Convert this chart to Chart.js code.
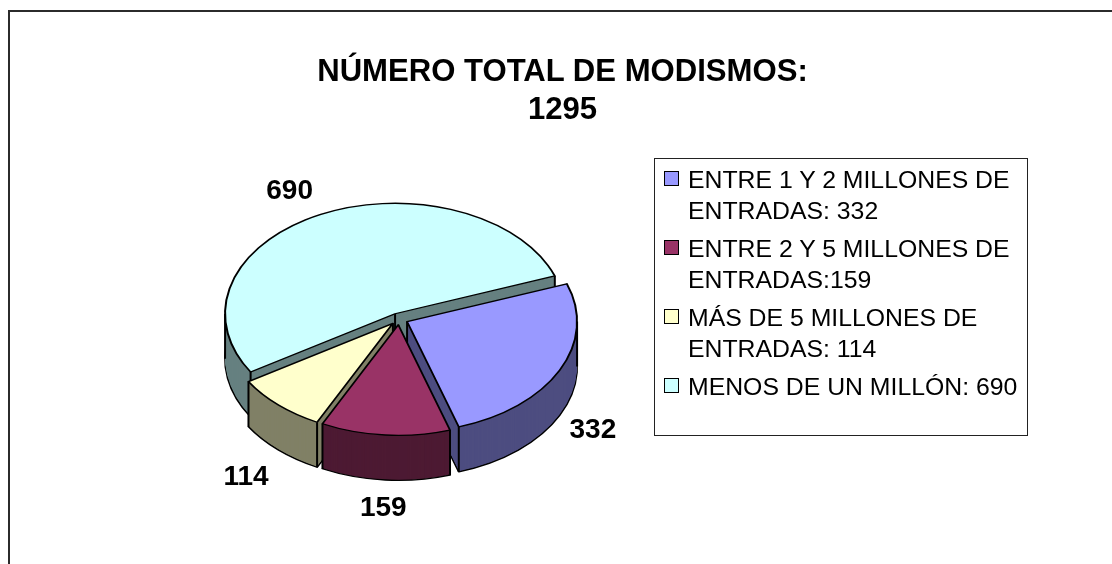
<!DOCTYPE html>
<html lang="es">
<head>
<meta charset="utf-8">
<title>Número total de modismos</title>
<script src="https://cdn.jsdelivr.net/npm/chart.js@4"></script>
<style>
  html,body{margin:0;padding:0;background:#fff;width:1112px;height:564px;overflow:hidden;}
  body{position:relative;font-family:"Liberation Sans",Arial,sans-serif;color:#000;}
  #chart{position:absolute;left:0;top:0;}
  .edge{position:absolute;background:#2b2b2b;}
  #edgeTop{left:8px;top:10px;right:0;height:2px;}
  #edgeLeft{left:7.5px;top:10px;bottom:0;width:2px;}
  #title{position:absolute;left:13px;width:1099px;top:52px;text-align:center;font-weight:bold;font-size:31.1px;line-height:38px;white-space:pre-line;}
  #legend{position:absolute;left:654px;top:158px;width:372px;height:276px;border:1px solid #222;box-sizing:content-box;}
  .item{position:absolute;left:33px;font-size:24.8px;line-height:31px;white-space:pre-line;}
  .swatch{position:absolute;left:-24px;top:7px;width:13px;height:13px;border:1.5px solid #000;}
</style>
</head>
<body>
<canvas id="chart" width="1112" height="564"></canvas>
<div class="edge" id="edgeTop"></div>
<div class="edge" id="edgeLeft"></div>
<div id="title"></div>
<div id="legend"></div>
<script>
const chartTitle = "NÚMERO TOTAL DE MODISMOS:\n1295";
const categories = [
  "ENTRE 1 Y 2 MILLONES DE\nENTRADAS: 332",
  "ENTRE 2 Y 5 MILLONES DE\nENTRADAS:159",
  "MÁS DE 5 MILLONES DE\nENTRADAS: 114",
  "MENOS DE UN MILLÓN: 690"
];
const values = [332, 159, 114, 690];
const topColors = ["#9999FF", "#993366", "#FFFFCC", "#CCFFFF"];
const wallColors = ["#4D4D80", "#4D1A33", "#808066", "#668080"];

// view settings of the tilted pie
const tilt = 0.65, depth = 45, explode = 9, edgeWidth = 2;
const paintOrder = [3, 0, 2, 1];           // far slices first
const labelGaps = [46, 48, 57, 62];        // distance of each value label from the rim
const labelNudgeX = [0, 1, 0, -8];
const labelNudgeY = [4, 3, 4, 8];
const legendTops = [5, 74, 143, 212];      // legend rows, relative to the box

document.getElementById("title").textContent = chartTitle;
const legendEl = document.getElementById("legend");
categories.forEach((text, i) => {
  const item = document.createElement("div");
  item.className = "item";
  item.style.top = legendTops[i] + "px";
  item.textContent = text;
  const sw = document.createElement("span");
  sw.className = "swatch";
  sw.style.background = topColors[i];
  item.appendChild(sw);
  legendEl.appendChild(item);
});

const pie3d = {
  id: "pie3d",
  beforeDatasetDraw(chart, args) {
    const ctx = chart.ctx;
    const arcs = args.meta.data;
    const place = (arc, d) => {
      const mid = (arc.startAngle + arc.endAngle) / 2;
      ctx.translate(arc.x + Math.cos(mid) * explode, arc.y + Math.sin(mid) * explode * tilt + d);
      ctx.scale(1, tilt);
      ctx.translate(-arc.x, -arc.y);
    };
    const drawWith = (arc, d, opts) => {
      const saved = arc.options;
      arc.options = Object.assign({}, saved, opts);
      ctx.save();
      place(arc, d);
      arc.draw(ctx);
      ctx.restore();
      arc.options = saved;
    };
    paintOrder.forEach(i => {
      const arc = arcs[i];
      const wall = wallColors[i];
      const rim = arc.outerRadius;
      drawWith(arc, depth, {backgroundColor: wall, borderColor: "#000", borderWidth: edgeWidth, borderJoinStyle: "round"});
      for (let d = depth - 1; d >= 1; d--) {
        drawWith(arc, d, {backgroundColor: wall, borderColor: wall, borderWidth: 0});
      }
      // upright edges of the wall: apex, both corners, and left/right silhouette
      const mid = (arc.startAngle + arc.endAngle) / 2;
      const ox = arc.x + Math.cos(mid) * explode;
      const oy = arc.y + Math.sin(mid) * explode * tilt;
      const angles = [arc.startAngle, arc.endAngle];
      for (let a = -4 * Math.PI; a <= 4 * Math.PI; a += Math.PI) {
        if (a > arc.startAngle && a < arc.endAngle) angles.push(a);
      }
      ctx.save();
      ctx.strokeStyle = "#000";
      ctx.lineWidth = edgeWidth;
      ctx.beginPath();
      ctx.moveTo(ox, oy);
      ctx.lineTo(ox, oy + depth);
      angles.forEach(a => {
        const px = ox + Math.cos(a) * rim;
        const py = oy + Math.sin(a) * rim * tilt;
        ctx.moveTo(px, py);
        ctx.lineTo(px, py + depth);
      });
      ctx.stroke();
      ctx.restore();
      drawWith(arc, 0, {backgroundColor: topColors[i], borderColor: "#000", borderWidth: edgeWidth, borderJoinStyle: "round"});
    });
    // value labels around the rim
    ctx.save();
    ctx.font = 'bold 28px "Liberation Sans", Arial, sans-serif';
    ctx.fillStyle = "#000";
    ctx.textAlign = "center";
    ctx.textBaseline = "middle";
    arcs.forEach((arc, i) => {
      const mid = (arc.startAngle + arc.endAngle) / 2;
      const r = arc.outerRadius + labelGaps[i];
      const sy = Math.sin(mid);
      const x = arc.x + Math.cos(mid) * r + labelNudgeX[i];
      const y = arc.y + sy * r * tilt + (sy > 0 ? depth : 0) + labelNudgeY[i];
      ctx.fillText(String(values[i]), x, y);
    });
    ctx.restore();
    return false;
  }
};

new Chart(document.getElementById("chart"), {
  type: "pie",
  plugins: [pie3d],
  data: {
    labels: categories,
    datasets: [{
      data: values,
      backgroundColor: topColors,
      borderColor: "#000",
      borderWidth: edgeWidth,
      rotation: 70
    }]
  },
  options: {
    responsive: false,
    animation: false,
    events: [],
    radius: 170,
    layout: {padding: {left: 0, right: 314, top: 74, bottom: 0}},
    plugins: {legend: {display: false}, title: {display: false}, tooltip: {enabled: false}}
  }
});
</script>
</body>
</html>
